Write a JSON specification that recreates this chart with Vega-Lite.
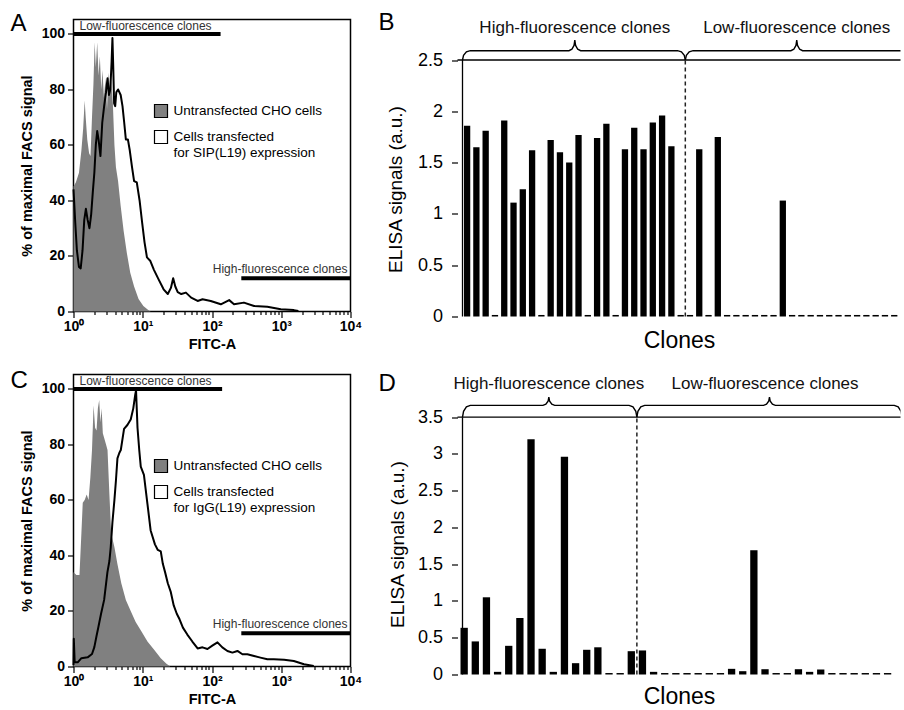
{
  "$schema": "https://vega.github.io/schema/vega-lite/v6.json",
  "autosize": {"type": "pad"},
  "padding": {"left": 9.5, "top": 10.5, "right": 0, "bottom": 0},
  "background": "white",
  "config": {
    "font": "Liberation Sans",
    "view": {"stroke": null},
    "axis": {"labelColor": "black", "titleColor": "black", "tickColor": "black", "domainColor": "black", "grid": false, "labelFont": "Liberation Sans", "titleFont": "Liberation Sans"},
    "title": {"font": "Liberation Sans", "fontSize": 24, "fontWeight": "normal", "anchor": "start", "frame": "group", "color": "black", "offset": 0, "baseline": "top"},
    "legend": {"labelFont": "Liberation Sans"}
  },
  "datasets": {
    "aGrey": [
      {"x": 1.0, "y": 45}, {"x": 1.08, "y": 46.5}, {"x": 1.2, "y": 50}, {"x": 1.3, "y": 58}, {"x": 1.38, "y": 66}, {"x": 1.45, "y": 76}, {"x": 1.5, "y": 70}, {"x": 1.58, "y": 62}, {"x": 1.68, "y": 57}, {"x": 1.76, "y": 56}, {"x": 1.85, "y": 70}, {"x": 1.94, "y": 82}, {"x": 2.02, "y": 97}, {"x": 2.1, "y": 88}, {"x": 2.2, "y": 97}, {"x": 2.3, "y": 85}, {"x": 2.4, "y": 92}, {"x": 2.52, "y": 80}, {"x": 2.62, "y": 87}, {"x": 2.75, "y": 77}, {"x": 2.9, "y": 84}, {"x": 3.05, "y": 73}, {"x": 3.2, "y": 86}, {"x": 3.35, "y": 80}, {"x": 3.5, "y": 83}, {"x": 3.7, "y": 75}, {"x": 3.9, "y": 60}, {"x": 4.1, "y": 52}, {"x": 4.4, "y": 47}, {"x": 4.8, "y": 38}, {"x": 5.3, "y": 29}, {"x": 5.9, "y": 21}, {"x": 6.6, "y": 14}, {"x": 7.5, "y": 9}, {"x": 8.7, "y": 4.5}, {"x": 10.2, "y": 2}, {"x": 12, "y": 0.5}, {"x": 13, "y": 0}
    ],
    "aLine": [
      {"x": 1.0, "y": 44}, {"x": 1.06, "y": 32}, {"x": 1.12, "y": 22}, {"x": 1.2, "y": 16}, {"x": 1.27, "y": 15.5}, {"x": 1.35, "y": 22}, {"x": 1.43, "y": 33}, {"x": 1.51, "y": 37}, {"x": 1.6, "y": 33}, {"x": 1.7, "y": 30}, {"x": 1.8, "y": 35}, {"x": 1.9, "y": 43}, {"x": 2.0, "y": 50}, {"x": 2.1, "y": 60}, {"x": 2.2, "y": 65}, {"x": 2.3, "y": 62}, {"x": 2.45, "y": 56}, {"x": 2.6, "y": 68}, {"x": 2.77, "y": 74}, {"x": 2.95, "y": 79}, {"x": 3.1, "y": 84}, {"x": 3.25, "y": 78}, {"x": 3.4, "y": 80}, {"x": 3.55, "y": 90}, {"x": 3.65, "y": 98.5}, {"x": 3.75, "y": 88}, {"x": 3.86, "y": 75}, {"x": 4.0, "y": 74}, {"x": 4.15, "y": 79}, {"x": 4.4, "y": 80}, {"x": 4.8, "y": 78}, {"x": 5.1, "y": 74}, {"x": 5.4, "y": 68}, {"x": 5.7, "y": 62}, {"x": 6.1, "y": 62}, {"x": 6.5, "y": 58}, {"x": 7.0, "y": 52}, {"x": 7.5, "y": 47}, {"x": 8.2, "y": 46.5}, {"x": 9.0, "y": 40}, {"x": 9.8, "y": 32}, {"x": 10.6, "y": 25}, {"x": 11.5, "y": 19.5}, {"x": 12.8, "y": 18.3}, {"x": 14.5, "y": 15}, {"x": 17, "y": 11.5}, {"x": 20, "y": 8}, {"x": 23, "y": 6.3}, {"x": 25.5, "y": 8.5}, {"x": 27.5, "y": 12}, {"x": 29.5, "y": 9}, {"x": 32, "y": 7}, {"x": 36, "y": 6.3}, {"x": 42, "y": 6.8}, {"x": 50, "y": 5}, {"x": 62, "y": 3.8}, {"x": 73, "y": 4.4}, {"x": 96, "y": 3.8}, {"x": 134, "y": 2.6}, {"x": 177, "y": 4.1}, {"x": 208, "y": 2.6}, {"x": 289, "y": 3.2}, {"x": 405, "y": 2}, {"x": 630, "y": 1.7}, {"x": 985, "y": 0.8}, {"x": 1520, "y": 0.5}, {"x": 1770, "y": 0.2}
    ],
    "cGrey": [
      {"x": 1.0, "y": 34}, {"x": 1.1, "y": 33}, {"x": 1.22, "y": 33}, {"x": 1.3, "y": 48}, {"x": 1.36, "y": 59}, {"x": 1.45, "y": 60}, {"x": 1.55, "y": 62}, {"x": 1.65, "y": 60}, {"x": 1.75, "y": 68}, {"x": 1.85, "y": 78}, {"x": 1.95, "y": 94}, {"x": 2.05, "y": 86}, {"x": 2.15, "y": 85}, {"x": 2.25, "y": 93}, {"x": 2.35, "y": 96}, {"x": 2.45, "y": 88}, {"x": 2.55, "y": 93}, {"x": 2.65, "y": 84}, {"x": 2.8, "y": 82}, {"x": 2.95, "y": 80}, {"x": 3.1, "y": 78}, {"x": 3.3, "y": 62}, {"x": 3.5, "y": 48}, {"x": 3.9, "y": 43}, {"x": 4.3, "y": 37}, {"x": 4.9, "y": 30}, {"x": 5.7, "y": 24}, {"x": 6.7, "y": 20}, {"x": 7.9, "y": 16}, {"x": 9.4, "y": 13}, {"x": 11.7, "y": 9}, {"x": 14.6, "y": 6}, {"x": 18.2, "y": 3}, {"x": 22, "y": 1}, {"x": 25, "y": 0}
    ],
    "cLine": [
      {"x": 1.0, "y": 0.5}, {"x": 1.01, "y": 10}, {"x": 1.04, "y": 1.5}, {"x": 1.15, "y": 1.5}, {"x": 1.3, "y": 3}, {"x": 1.6, "y": 3.3}, {"x": 1.85, "y": 4.5}, {"x": 2.0, "y": 7}, {"x": 2.15, "y": 11}, {"x": 2.3, "y": 14.5}, {"x": 2.5, "y": 19}, {"x": 2.77, "y": 24}, {"x": 3.09, "y": 34}, {"x": 3.3, "y": 38}, {"x": 3.45, "y": 43}, {"x": 3.65, "y": 52}, {"x": 3.9, "y": 60}, {"x": 4.1, "y": 67}, {"x": 4.31, "y": 75}, {"x": 4.6, "y": 77}, {"x": 4.82, "y": 78}, {"x": 5.37, "y": 85.6}, {"x": 6.0, "y": 87}, {"x": 6.7, "y": 89}, {"x": 7.3, "y": 93}, {"x": 7.8, "y": 98}, {"x": 8.0, "y": 99.5}, {"x": 8.4, "y": 86}, {"x": 8.9, "y": 78}, {"x": 9.36, "y": 72}, {"x": 10.4, "y": 69}, {"x": 11.0, "y": 64}, {"x": 11.7, "y": 58.5}, {"x": 13, "y": 49}, {"x": 15, "y": 44}, {"x": 16.5, "y": 42}, {"x": 18.2, "y": 41.5}, {"x": 19.5, "y": 37}, {"x": 21, "y": 34}, {"x": 23, "y": 30}, {"x": 25.3, "y": 27}, {"x": 28, "y": 22}, {"x": 31, "y": 19}, {"x": 34, "y": 17}, {"x": 38, "y": 14}, {"x": 44, "y": 11.5}, {"x": 52, "y": 9}, {"x": 62, "y": 6.5}, {"x": 73, "y": 6.9}, {"x": 86, "y": 6.3}, {"x": 101, "y": 7.5}, {"x": 120, "y": 8.7}, {"x": 141, "y": 6.9}, {"x": 167, "y": 5.6}, {"x": 197, "y": 5}, {"x": 233, "y": 5.6}, {"x": 275, "y": 4.4}, {"x": 324, "y": 4.4}, {"x": 405, "y": 3.8}, {"x": 500, "y": 3.2}, {"x": 630, "y": 2.6}, {"x": 780, "y": 2.6}, {"x": 1100, "y": 2.4}, {"x": 1520, "y": 2}, {"x": 2130, "y": 0.8}, {"x": 2950, "y": 0.2}
    ],
    "annoA": [
      {"side": "low", "label": "Low-fluorescence clones", "from": 1, "to": 133, "level": 100},
      {"side": "high", "label": "High-fluorescence clones", "from": 265, "to": 10000, "level": 12}
    ],
    "annoC": [
      {"side": "low", "label": "Low-fluorescence clones", "from": 1, "to": 140, "level": 100},
      {"side": "high", "label": "High-fluorescence clones", "from": 265, "to": 10000, "level": 12}
    ],
    "bBars": [
      {"clone": 1, "value": 1.86}, {"clone": 2, "value": 1.65}, {"clone": 3, "value": 1.81}, {"clone": 4, "value": 0.015}, {"clone": 5, "value": 1.91}, {"clone": 6, "value": 1.11}, {"clone": 7, "value": 1.24}, {"clone": 8, "value": 1.62}, {"clone": 9, "value": 0.015}, {"clone": 10, "value": 1.72}, {"clone": 11, "value": 1.6}, {"clone": 12, "value": 1.5}, {"clone": 13, "value": 1.77}, {"clone": 14, "value": 0.015}, {"clone": 15, "value": 1.74}, {"clone": 16, "value": 1.88}, {"clone": 17, "value": 0.015}, {"clone": 18, "value": 1.63}, {"clone": 19, "value": 1.84}, {"clone": 20, "value": 1.63}, {"clone": 21, "value": 1.89}, {"clone": 22, "value": 1.96}, {"clone": 23, "value": 1.66}, {"clone": 24, "value": 0.015},
      {"clone": 25, "value": 0.015}, {"clone": 26, "value": 1.63}, {"clone": 27, "value": 0.015}, {"clone": 28, "value": 1.75}, {"clone": 29, "value": 0.015}, {"clone": 30, "value": 0.015}, {"clone": 31, "value": 0.015}, {"clone": 32, "value": 0.015}, {"clone": 33, "value": 0.015}, {"clone": 34, "value": 0.015}, {"clone": 35, "value": 1.13}, {"clone": 36, "value": 0.015}, {"clone": 37, "value": 0.015}, {"clone": 38, "value": 0.015}, {"clone": 39, "value": 0.015}, {"clone": 40, "value": 0.015}, {"clone": 41, "value": 0.015}, {"clone": 42, "value": 0.015}, {"clone": 43, "value": 0.015}, {"clone": 44, "value": 0.015}, {"clone": 45, "value": 0.015}, {"clone": 46, "value": 0.015}, {"clone": 47, "value": 0.015}
    ],
    "bBrace": [
      {"brace": "high", "x": 0.505, "y": 2.5}, {"brace": "high", "x": 0.618, "y": 2.5455}, {"brace": "high", "x": 0.925, "y": 2.579}, {"brace": "high", "x": 1.345, "y": 2.591}, {"brace": "high", "x": 11.97, "y": 2.591}, {"brace": "high", "x": 12.285, "y": 2.605}, {"brace": "high", "x": 12.516, "y": 2.642}, {"brace": "high", "x": 12.6, "y": 2.693}, {"brace": "high", "x": 12.684, "y": 2.642}, {"brace": "high", "x": 12.915, "y": 2.605}, {"brace": "high", "x": 13.23, "y": 2.591}, {"brace": "high", "x": 23.66, "y": 2.591}, {"brace": "high", "x": 24.08, "y": 2.579}, {"brace": "high", "x": 24.387, "y": 2.5455}, {"brace": "high", "x": 24.5, "y": 2.5},
      {"brace": "low", "x": 24.5, "y": 2.5}, {"brace": "low", "x": 24.613, "y": 2.5455}, {"brace": "low", "x": 24.92, "y": 2.579}, {"brace": "low", "x": 25.34, "y": 2.591}, {"brace": "low", "x": 35.87, "y": 2.591}, {"brace": "low", "x": 36.185, "y": 2.605}, {"brace": "low", "x": 36.416, "y": 2.642}, {"brace": "low", "x": 36.5, "y": 2.693}, {"brace": "low", "x": 36.584, "y": 2.642}, {"brace": "low", "x": 36.815, "y": 2.605}, {"brace": "low", "x": 37.13, "y": 2.591}, {"brace": "low", "x": 47.66, "y": 2.591}, {"brace": "low", "x": 48.08, "y": 2.579}, {"brace": "low", "x": 48.387, "y": 2.5455}, {"brace": "low", "x": 48.5, "y": 2.5}
    ],
    "bLabels": [
      {"label": "High-fluorescence clones", "x": 12.6, "y": 2.815},
      {"label": "Low-fluorescence clones", "x": 36.5, "y": 2.815}
    ],
    "dBars": [
      {"clone": 1, "value": 0.635}, {"clone": 2, "value": 0.45}, {"clone": 3, "value": 1.05}, {"clone": 4, "value": 0.036}, {"clone": 5, "value": 0.39}, {"clone": 6, "value": 0.77}, {"clone": 7, "value": 3.2}, {"clone": 8, "value": 0.35}, {"clone": 9, "value": 0.036}, {"clone": 10, "value": 2.96}, {"clone": 11, "value": 0.154}, {"clone": 12, "value": 0.336}, {"clone": 13, "value": 0.37}, {"clone": 14, "value": 0.02}, {"clone": 15, "value": 0.02}, {"clone": 16, "value": 0.317},
      {"clone": 17, "value": 0.327}, {"clone": 18, "value": 0.036}, {"clone": 19, "value": 0.02}, {"clone": 20, "value": 0.02}, {"clone": 21, "value": 0.02}, {"clone": 22, "value": 0.02}, {"clone": 23, "value": 0.02}, {"clone": 24, "value": 0.02}, {"clone": 25, "value": 0.077}, {"clone": 26, "value": 0.045}, {"clone": 27, "value": 1.69}, {"clone": 28, "value": 0.072}, {"clone": 29, "value": 0.02}, {"clone": 30, "value": 0.02}, {"clone": 31, "value": 0.072}, {"clone": 32, "value": 0.036}, {"clone": 33, "value": 0.068}, {"clone": 34, "value": 0.02}, {"clone": 35, "value": 0.02}, {"clone": 36, "value": 0.02}, {"clone": 37, "value": 0.02}, {"clone": 38, "value": 0.02}, {"clone": 39, "value": 0.02}
    ],
    "dBrace": [
      {"brace": "high", "x": 0.851, "y": 3.5}, {"brace": "high", "x": 0.945, "y": 3.58}, {"brace": "high", "x": 1.201, "y": 3.639}, {"brace": "high", "x": 1.551, "y": 3.66}, {"brace": "high", "x": 8.07, "y": 3.66}, {"brace": "high", "x": 8.335, "y": 3.675}, {"brace": "high", "x": 8.529, "y": 3.716}, {"brace": "high", "x": 8.6, "y": 3.772}, {"brace": "high", "x": 8.671, "y": 3.716}, {"brace": "high", "x": 8.865, "y": 3.675}, {"brace": "high", "x": 9.13, "y": 3.66}, {"brace": "high", "x": 15.8, "y": 3.66}, {"brace": "high", "x": 16.15, "y": 3.639}, {"brace": "high", "x": 16.406, "y": 3.58}, {"brace": "high", "x": 16.5, "y": 3.5},
      {"brace": "low", "x": 16.5, "y": 3.5}, {"brace": "low", "x": 16.594, "y": 3.58}, {"brace": "low", "x": 16.85, "y": 3.639}, {"brace": "low", "x": 17.2, "y": 3.66}, {"brace": "low", "x": 27.87, "y": 3.66}, {"brace": "low", "x": 28.135, "y": 3.675}, {"brace": "low", "x": 28.329, "y": 3.716}, {"brace": "low", "x": 28.4, "y": 3.772}, {"brace": "low", "x": 28.471, "y": 3.716}, {"brace": "low", "x": 28.665, "y": 3.675}, {"brace": "low", "x": 28.93, "y": 3.66}, {"brace": "low", "x": 39.6, "y": 3.66}, {"brace": "low", "x": 39.95, "y": 3.639}, {"brace": "low", "x": 40.206, "y": 3.58}, {"brace": "low", "x": 40.3, "y": 3.5}
    ],
    "dLabels": [
      {"label": "High-fluorescence clones", "x": 8.6, "y": 3.95},
      {"label": "Low-fluorescence clones", "x": 28.0, "y": 3.95}
    ],
    "one": [{}]
  },
  "columns": 2,
  "bounds": "flush",
  "align": "each",
  "spacing": {"row": 58, "column": 107},
  "resolve": {"scale": {"x": "independent", "y": "independent", "fill": "independent", "stroke": "independent"}},
  "concat": [
    {
      "width": 277, "height": 292,
      "title": {"text": "A", "dx": -63, "dy": 20},
      "view": {"stroke": "black", "strokeWidth": 1.5},
      "layer": [
        {
          "data": {"name": "aGrey"},
          "mark": {"type": "area", "color": "#808080", "opacity": 1},
          "encoding": {
            "x": {"field": "x", "type": "quantitative", "scale": {"type": "log", "domain": [1, 10000], "nice": false},
              "axis": {"values": [1,2,3,4,5,6,7,8,9,10,20,30,40,50,60,70,80,90,100,200,300,400,500,600,700,800,900,1000,2000,3000,4000,5000,6000,7000,8000,9000,10000],
                "labelExpr": "datum.value == 1 ? '10⁰' : datum.value == 10 ? '10¹' : datum.value == 100 ? '10²' : datum.value == 1000 ? '10³' : datum.value == 10000 ? '10⁴' : ''",
                "tickSize": {"condition": {"test": "indexof([1, 10, 100, 1000, 10000], datum.value) >= 0", "value": 6}, "value": 3},
                "tickWidth": 1.2, "domain": false, "grid": false, "labelOverlap": false, "labelFlush": false, "labelBound": false,
                "labelFontSize": 14, "labelFontWeight": "bold", "labelPadding": 2,
                "title": "FITC-A", "titleFontSize": 14.5, "titleFontWeight": "bold", "titlePadding": 4}},
            "y": {"field": "y", "type": "quantitative", "scale": {"domain": [0, 105.2], "nice": false},
              "axis": {"values": [0,5,10,15,20,25,30,35,40,45,50,55,60,65,70,75,80,85,90,95,100], "format": "d",
                "labelExpr": "datum.value % 20 === 0 ? datum.label : ''",
                "tickSize": {"condition": {"test": "datum.value % 20 === 0", "value": 6}, "value": 3},
                "tickWidth": 1.2, "domain": false, "grid": false, "labelOverlap": false, "labelFlush": false,
                "labelFontSize": 14, "labelFontWeight": "bold", "labelPadding": 3,
                "title": "% of maximal FACS signal", "titleFontSize": 14.5, "titleFontWeight": "bold", "titlePadding": 7}},
            "fill": {"datum": "Untransfected CHO cells", "type": "nominal", "scale": {"domain": ["Untransfected CHO cells"], "range": ["#808080"]},
              "legend": {"orient": "none", "legendX": 80, "legendY": 84, "title": null, "padding": 0, "symbolType": "square", "symbolSize": 169, "symbolStrokeColor": "black", "symbolStrokeWidth": 1.2, "symbolOpacity": 1, "labelFontSize": 13.5, "labelColor": "black", "labelOffset": 5, "labelLimit": 300, "labelBaseline": "middle"}}
          }
        },
        {
          "data": {"name": "aLine"},
          "mark": {"type": "line", "color": "black", "strokeWidth": 2, "strokeJoin": "round"},
          "encoding": {
            "x": {"field": "x", "type": "quantitative"},
            "y": {"field": "y", "type": "quantitative"},
            "stroke": {"datum": "Cells transfected for SIP(L19) expression", "type": "nominal", "scale": {"domain": ["Cells transfected for SIP(L19) expression"], "range": ["black"]},
              "legend": {"orient": "none", "legendX": 80, "legendY": 110, "title": null, "padding": 0, "symbolType": "square", "symbolSize": 169, "symbolFillColor": "white", "symbolStrokeColor": "black", "symbolStrokeWidth": 1.2, "symbolOpacity": 1,
                "labelExpr": "['Cells transfected', 'for SIP(L19) expression']", "labelFontSize": 13.5, "labelColor": "black", "labelOffset": 5, "labelLimit": 300, "labelBaseline": "middle",
                "encode": {"symbols": {"update": {"fill": {"value": "white"}, "stroke": {"value": "black"}, "strokeWidth": {"value": 1.2}}}}}}
          }
        },
        {
          "data": {"name": "annoA"},
          "mark": {"type": "rule", "color": "black", "strokeWidth": 4},
          "encoding": {
            "x": {"field": "from", "type": "quantitative"},
            "x2": {"field": "to"},
            "y": {"field": "level", "type": "quantitative"}
          }
        },
        {
          "data": {"name": "annoA"},
          "transform": [{"filter": "datum.side == 'low'"}],
          "mark": {"type": "text", "align": "left", "baseline": "alphabetic", "dx": 6, "dy": -4, "fontSize": 12, "color": "#333"},
          "encoding": {
            "x": {"field": "from", "type": "quantitative"},
            "y": {"field": "level", "type": "quantitative"},
            "text": {"field": "label"}
          }
        },
        {
          "data": {"name": "annoA"},
          "transform": [{"filter": "datum.side == 'high'"}],
          "mark": {"type": "text", "align": "right", "baseline": "alphabetic", "dx": -3, "dy": -5, "fontSize": 12, "color": "#333"},
          "encoding": {
            "x": {"field": "to", "type": "quantitative"},
            "y": {"field": "level", "type": "quantitative"},
            "text": {"field": "label"}
          }
        }
      ]
    },
    {
      "width": 443, "height": 297,
      "title": {"text": "B", "dx": -79, "dy": 20},
      "layer": [
        {
          "data": {"name": "bBars"},
          "mark": {"type": "bar", "color": "black", "size": 6.3},
          "encoding": {
            "x": {"field": "clone", "type": "quantitative", "scale": {"domain": [0.505, 47.136], "nice": false, "zero": false},
              "axis": {"title": "Clones", "labels": false, "ticks": false, "domain": false, "grid": false, "titleFontSize": 23, "titleFontWeight": "normal", "titlePadding": 13}},
            "y": {"field": "value", "type": "quantitative", "scale": {"domain": [0, 2.895], "nice": false},
              "axis": {"values": [0, 0.5, 1, 1.5, 2, 2.5], "format": "~g", "domain": false, "grid": false, "tickSize": 6, "tickWidth": 1.2, "labelFontSize": 18, "labelPadding": 9, "labelFlush": false, "labelOverlap": false,
                "title": "ELISA signals (a.u.)", "titleFontSize": 19, "titleFontWeight": "normal", "titlePadding": 12, "titleY": 169.5}}
          }
        },
        {
          "data": {"name": "one"},
          "mark": {"type": "rule", "color": "black", "strokeWidth": 1.3},
          "encoding": {"x": {"datum": 0.505, "type": "quantitative"}, "y": {"datum": 0, "type": "quantitative"}, "y2": {"datum": 2.5}}
        },
        {
          "data": {"name": "one"},
          "mark": {"type": "rule", "color": "black", "strokeWidth": 1.3},
          "encoding": {"y": {"datum": 2.5, "type": "quantitative"}}
        },
        {
          "data": {"name": "one"},
          "mark": {"type": "rule", "color": "#222", "strokeWidth": 1.5, "strokeDash": [4, 3]},
          "encoding": {"x": {"datum": 24.5, "type": "quantitative"}, "y": {"datum": 0, "type": "quantitative"}, "y2": {"datum": 2.5}}
        },
        {
          "data": {"name": "bBrace"},
          "mark": {"type": "line", "color": "black", "strokeWidth": 1.4, "clip": true},
          "encoding": {
            "x": {"field": "x", "type": "quantitative"},
            "y": {"field": "y", "type": "quantitative"},
            "detail": {"field": "brace"},
            "order": {"field": "x"}
          }
        },
        {
          "data": {"name": "bLabels"},
          "mark": {"type": "text", "fontSize": 17, "color": "#111", "baseline": "middle"},
          "encoding": {
            "x": {"field": "x", "type": "quantitative"},
            "y": {"field": "y", "type": "quantitative"},
            "text": {"field": "label"}
          }
        }
      ]
    },
    {
      "width": 277, "height": 292,
      "title": {"text": "C", "dx": -63, "dy": 22},
      "view": {"stroke": "black", "strokeWidth": 1.5},
      "layer": [
        {
          "data": {"name": "cGrey"},
          "mark": {"type": "area", "color": "#808080", "opacity": 1},
          "encoding": {
            "x": {"field": "x", "type": "quantitative", "scale": {"type": "log", "domain": [1, 10000], "nice": false},
              "axis": {"values": [1,2,3,4,5,6,7,8,9,10,20,30,40,50,60,70,80,90,100,200,300,400,500,600,700,800,900,1000,2000,3000,4000,5000,6000,7000,8000,9000,10000],
                "labelExpr": "datum.value == 1 ? '10⁰' : datum.value == 10 ? '10¹' : datum.value == 100 ? '10²' : datum.value == 1000 ? '10³' : datum.value == 10000 ? '10⁴' : ''",
                "tickSize": {"condition": {"test": "indexof([1, 10, 100, 1000, 10000], datum.value) >= 0", "value": 6}, "value": 3},
                "tickWidth": 1.2, "domain": false, "grid": false, "labelOverlap": false, "labelFlush": false, "labelBound": false,
                "labelFontSize": 14, "labelFontWeight": "bold", "labelPadding": 2,
                "title": "FITC-A", "titleFontSize": 14.5, "titleFontWeight": "bold", "titlePadding": 4}},
            "y": {"field": "y", "type": "quantitative", "scale": {"domain": [0, 105.2], "nice": false},
              "axis": {"values": [0,5,10,15,20,25,30,35,40,45,50,55,60,65,70,75,80,85,90,95,100], "format": "d",
                "labelExpr": "datum.value % 20 === 0 ? datum.label : ''",
                "tickSize": {"condition": {"test": "datum.value % 20 === 0", "value": 6}, "value": 3},
                "tickWidth": 1.2, "domain": false, "grid": false, "labelOverlap": false, "labelFlush": false,
                "labelFontSize": 14, "labelFontWeight": "bold", "labelPadding": 3,
                "title": "% of maximal FACS signal", "titleFontSize": 14.5, "titleFontWeight": "bold", "titlePadding": 7}},
            "fill": {"datum": "Untransfected CHO cells", "type": "nominal", "scale": {"domain": ["Untransfected CHO cells"], "range": ["#808080"]},
              "legend": {"orient": "none", "legendX": 80, "legendY": 84, "title": null, "padding": 0, "symbolType": "square", "symbolSize": 169, "symbolStrokeColor": "black", "symbolStrokeWidth": 1.2, "symbolOpacity": 1, "labelFontSize": 13.5, "labelColor": "black", "labelOffset": 5, "labelLimit": 300, "labelBaseline": "middle"}}
          }
        },
        {
          "data": {"name": "cLine"},
          "mark": {"type": "line", "color": "black", "strokeWidth": 2, "strokeJoin": "round"},
          "encoding": {
            "x": {"field": "x", "type": "quantitative"},
            "y": {"field": "y", "type": "quantitative"},
            "stroke": {"datum": "Cells transfected for IgG(L19) expression", "type": "nominal", "scale": {"domain": ["Cells transfected for IgG(L19) expression"], "range": ["black"]},
              "legend": {"orient": "none", "legendX": 80, "legendY": 110, "title": null, "padding": 0, "symbolType": "square", "symbolSize": 169, "symbolFillColor": "white", "symbolStrokeColor": "black", "symbolStrokeWidth": 1.2, "symbolOpacity": 1,
                "labelExpr": "['Cells transfected', 'for IgG(L19) expression']", "labelFontSize": 13.5, "labelColor": "black", "labelOffset": 5, "labelLimit": 300, "labelBaseline": "middle",
                "encode": {"symbols": {"update": {"fill": {"value": "white"}, "stroke": {"value": "black"}, "strokeWidth": {"value": 1.2}}}}}}
          }
        },
        {
          "data": {"name": "annoC"},
          "mark": {"type": "rule", "color": "black", "strokeWidth": 4},
          "encoding": {
            "x": {"field": "from", "type": "quantitative"},
            "x2": {"field": "to"},
            "y": {"field": "level", "type": "quantitative"}
          }
        },
        {
          "data": {"name": "annoC"},
          "transform": [{"filter": "datum.side == 'low'"}],
          "mark": {"type": "text", "align": "left", "baseline": "alphabetic", "dx": 6, "dy": -4, "fontSize": 12, "color": "#333"},
          "encoding": {
            "x": {"field": "from", "type": "quantitative"},
            "y": {"field": "level", "type": "quantitative"},
            "text": {"field": "label"}
          }
        },
        {
          "data": {"name": "annoC"},
          "transform": [{"filter": "datum.side == 'high'"}],
          "mark": {"type": "text", "align": "right", "baseline": "alphabetic", "dx": -3, "dy": -5, "fontSize": 12, "color": "#333"},
          "encoding": {
            "x": {"field": "to", "type": "quantitative"},
            "y": {"field": "level", "type": "quantitative"},
            "text": {"field": "label"}
          }
        }
      ]
    },
    {
      "width": 443, "height": 300,
      "title": {"text": "D", "dx": -79, "dy": 25},
      "layer": [
        {
          "data": {"name": "dBars"},
          "mark": {"type": "bar", "color": "black", "size": 7.3},
          "encoding": {
            "x": {"field": "clone", "type": "quantitative", "scale": {"domain": [0.851, 39.71], "nice": false, "zero": false},
              "axis": {"title": "Clones", "labels": false, "ticks": false, "domain": false, "grid": false, "titleFontSize": 23, "titleFontWeight": "normal", "titlePadding": 11}},
            "y": {"field": "value", "type": "quantitative", "scale": {"domain": [0, 4.08], "nice": false},
              "axis": {"values": [0, 0.5, 1, 1.5, 2, 2.5, 3, 3.5], "format": "~g", "domain": false, "grid": false, "tickSize": 6, "tickWidth": 1.2, "labelFontSize": 18, "labelPadding": 9, "labelFlush": false, "labelOverlap": false,
                "title": "ELISA signals (a.u.)", "titleFontSize": 19, "titleFontWeight": "normal", "titlePadding": 10, "titleY": 169.5}}
          }
        },
        {
          "data": {"name": "one"},
          "mark": {"type": "rule", "color": "black", "strokeWidth": 1.3},
          "encoding": {"x": {"datum": 0.851, "type": "quantitative"}, "y": {"datum": 0, "type": "quantitative"}, "y2": {"datum": 3.5}}
        },
        {
          "data": {"name": "one"},
          "mark": {"type": "rule", "color": "black", "strokeWidth": 1.3},
          "encoding": {"y": {"datum": 3.5, "type": "quantitative"}}
        },
        {
          "data": {"name": "one"},
          "mark": {"type": "rule", "color": "#222", "strokeWidth": 1.5, "strokeDash": [4, 3]},
          "encoding": {"x": {"datum": 16.5, "type": "quantitative"}, "y": {"datum": 0, "type": "quantitative"}, "y2": {"datum": 3.5}}
        },
        {
          "data": {"name": "dBrace"},
          "mark": {"type": "line", "color": "black", "strokeWidth": 1.4, "clip": true},
          "encoding": {
            "x": {"field": "x", "type": "quantitative"},
            "y": {"field": "y", "type": "quantitative"},
            "detail": {"field": "brace"},
            "order": {"field": "x"}
          }
        },
        {
          "data": {"name": "dLabels"},
          "mark": {"type": "text", "fontSize": 17, "color": "#111", "baseline": "middle"},
          "encoding": {
            "x": {"field": "x", "type": "quantitative"},
            "y": {"field": "y", "type": "quantitative"},
            "text": {"field": "label"}
          }
        }
      ]
    }
  ]
}
